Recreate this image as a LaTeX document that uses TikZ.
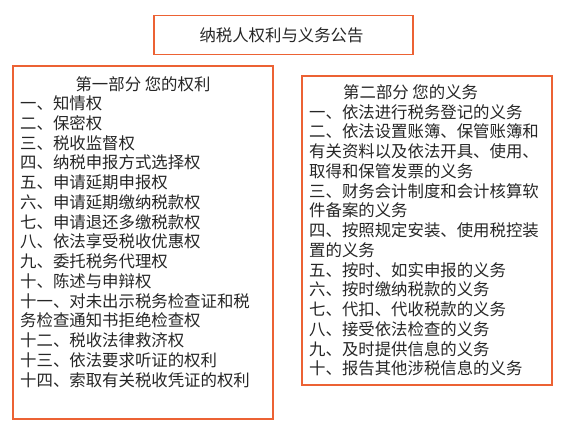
\documentclass[tikz,border=0pt]{standalone}
\usepackage{fontspec}
\newfontfamily\cjk{Noto Sans CJK SC}
\definecolor{frame}{RGB}{236,98,52}
\begin{document}
\begin{tikzpicture}[x=1pt,y=-1pt,
  box/.style={draw=frame,line width=1.3pt,inner sep=0pt,rectangle},
  txt/.style={inner sep=0pt,align=left,text=black!85,font=\cjk\fontsize{16.4pt}{19.75pt}\selectfont}]
\useasboundingbox (0,0) rectangle (569,439);
\node[box,minimum width=259pt,minimum height=39pt] (tbox) at (283.5,34.8) {};
\node[box,minimum width=260pt,minimum height=353pt] (lbox) at (143,242.5) {};
\node[box,minimum width=250pt,minimum height=309pt] (rbox) at (427,230.5) {};
\node[txt,anchor=base] (title) at (281.5,41) {纳税人权利与义务公告};
\node[txt,anchor=base] (ltitle) at (143,90) {第一部分 您的权利};
% anchor base = baseline of the last line
\node[txt,anchor=base west] (litems) at (20,386.2) {一、知情权\\二、保密权\\三、税收监督权\\四、纳税申报方式选择权\\五、申请延期申报权\\六、申请延期缴纳税款权\\七、申请退还多缴税款权\\八、依法享受税收优惠权\\九、委托税务代理权\\十、陈述与申辩权\\十一、对未出示税务检查证和税\\务检查通知书拒绝检查权\\十二、税收法律救济权\\十三、依法要求听证的权利\\十四、索取有关税收凭证的权利};
\node[txt,anchor=base west] (rtitle) at (343,98.2) {第二部分 您的义务};
\node[txt,anchor=base west] (ritems) at (309,374.8) {一、依法进行税务登记的义务\\二、依法设置账簿、保管账簿和\\有关资料以及依法开具、使用、\\取得和保管发票的义务\\三、财务会计制度和会计核算软\\件备案的义务\\四、按照规定安装、使用税控装\\置的义务\\五、按时、如实申报的义务\\六、按时缴纳税款的义务\\七、代扣、代收税款的义务\\八、接受依法检查的义务\\九、及时提供信息的义务\\十、报告其他涉税信息的义务};
\end{tikzpicture}
\end{document}
